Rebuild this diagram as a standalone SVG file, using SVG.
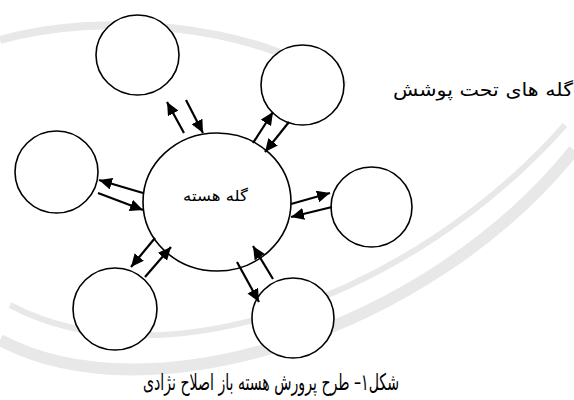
<svg xmlns="http://www.w3.org/2000/svg" width="574" height="400" viewBox="0 0 574 400">
<defs>
<style>
.node{fill:#fff;stroke:#000;stroke-width:1.6}
.arr{stroke:#000;stroke-width:2.2;fill:none;marker-end:url(#ah)}
.lbl{font-family:"DejaVu Sans","Noto Sans",sans-serif;fill:#000}
.wm{fill:none;stroke:#e8e8e8}
</style>
<marker id="ah" markerUnits="userSpaceOnUse" markerWidth="14" markerHeight="12" refX="13" refY="6" orient="auto">
<path d="M0,0 L13,6 L0,12 z" fill="#000"/>
</marker>
</defs>
<rect width="574" height="400" fill="#fff"/>
<g id="watermark">
<path class="wm" stroke-width="12" d="M0,340 C150,420 430,330 574,150"/>
<path class="wm" stroke-width="6" d="M10,305 C160,385 410,300 565,125"/>
<path class="wm" stroke-width="8" d="M0,40 C100,12 250,22 345,85"/>
</g>
<g id="n-top-left"><ellipse class="node" cx="137.5" cy="55" rx="41.5" ry="40"/></g>
<g id="n-top-right"><ellipse class="node" cx="302.5" cy="85" rx="41.5" ry="40"/></g>
<g id="n-left"><ellipse class="node" cx="56.5" cy="172" rx="41.5" ry="41"/></g>
<g id="n-right"><ellipse class="node" cx="371.5" cy="207" rx="40.5" ry="40"/></g>
<g id="n-bottom-left"><ellipse class="node" cx="115" cy="309" rx="42" ry="41"/></g>
<g id="n-bottom-right"><ellipse class="node" cx="293" cy="318" rx="41" ry="40"/></g>
<g id="core">
<ellipse class="node" cx="217" cy="202" rx="74" ry="69"/>
<text class="lbl" x="215.5" y="201" font-size="15" text-anchor="middle" direction="rtl" textLength="65" lengthAdjust="spacingAndGlyphs">گله هسته</text>
</g>
<g id="connectors">
<line class="arr" x1="184" y1="133" x2="167" y2="102"/>
<line class="arr" x1="186" y1="100" x2="203" y2="133"/>
<line class="arr" x1="253" y1="143" x2="273" y2="112"/>
<line class="arr" x1="289" y1="122" x2="265" y2="152"/>
<line class="arr" x1="143" y1="193" x2="99" y2="180"/>
<line class="arr" x1="98" y1="193" x2="143" y2="210"/>
<line class="arr" x1="291" y1="204" x2="330" y2="193"/>
<line class="arr" x1="332" y1="207" x2="291" y2="217"/>
<line class="arr" x1="155" y1="238" x2="131" y2="267"/>
<line class="arr" x1="145" y1="277" x2="171" y2="247"/>
<line class="arr" x1="237" y1="262" x2="259" y2="302"/>
<line class="arr" x1="273" y1="279" x2="253" y2="246"/>
</g>
<g id="label-covered">
<text class="lbl" x="483" y="96" font-size="18" text-anchor="middle" direction="rtl" textLength="180" lengthAdjust="spacingAndGlyphs">گله های تحت پوشش</text>
</g>
<g id="caption">
<text class="lbl" x="271" y="390" font-size="23" text-anchor="middle" direction="rtl" textLength="256" lengthAdjust="spacingAndGlyphs">شکل۱– طرح پرورش هسته باز اصلاح نژادی</text>
</g>
</svg>
